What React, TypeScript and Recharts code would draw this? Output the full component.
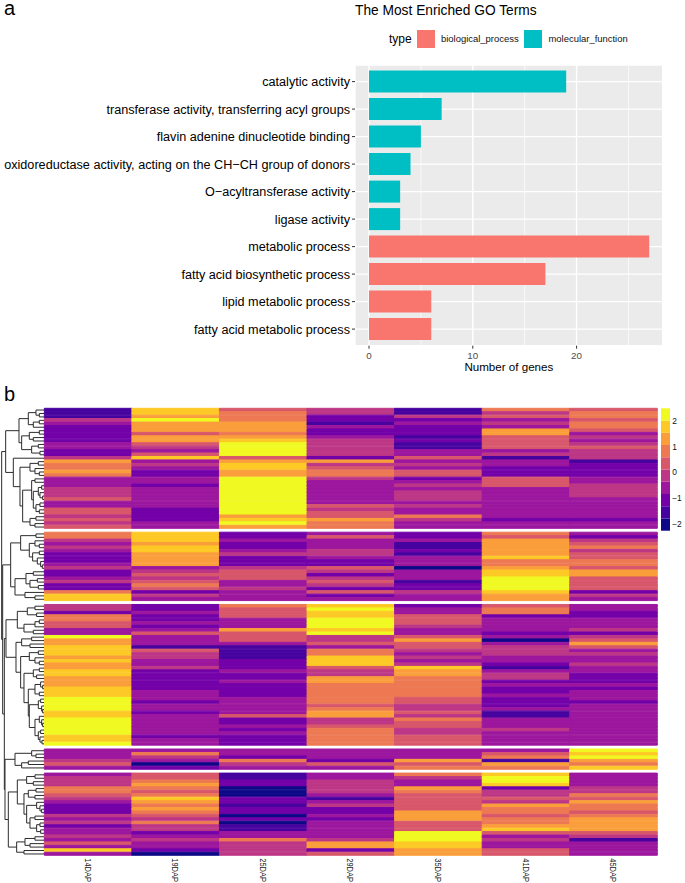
import React from "react";
import { BarChart, Bar, XAxis, YAxis, CartesianGrid, Cell, Legend, LineChart, Line } from "recharts";

const FONT = '"Liberation Sans", Arial, sans-serif';
const MINUS = "\u2212";

// ---------- panel a ----------
const goTerms = [
  "catalytic activity",
  "transferase activity, transferring acyl groups",
  "flavin adenine dinucleotide binding",
  `oxidoreductase activity, acting on the CH${MINUS}CH group of donors`,
  `O${MINUS}acyltransferase activity`,
  "ligase activity",
  "metabolic process",
  "fatty acid biosynthetic process",
  "lipid metabolic process",
  "fatty acid metabolic process",
];
const molecularFunction = [19, 7, 5, 4, 3, 3, 0, 0, 0, 0];
const biologicalProcess = [0, 0, 0, 0, 0, 0, 27, 17, 6, 6];
const geneTicks = [0, 10, 20];
const geneMinorTicks = [5, 15, 25];
const BP_COLOR = "#F8766D";
const MF_COLOR = "#00BFC4";

const goData = goTerms.map((term, i) => ({
  term,
  biological_process: biologicalProcess[i],
  molecular_function: molecularFunction[i],
}));

// ---------- panel b ----------
const palette = ["#0D0887", "#47039F", "#7301A8", "#9C179E", "#BD3786", "#D8576B", "#ED7953", "#FA9E3B", "#FDC926", "#F0F921"];
const samples = ["14DAP", "19DAP", "25DAP", "29DAP", "35DAP", "41DAP", "45DAP"];
const segmentSizes = [35, 20, 41, 6, 24];

const dap14 = [
  1,1,1,4,3,2,2,2,2,2,3,3,2,2,4,7,6,6,7,6,3,3,3,4,4,4,5,3,3,5,5,4,5,4,5,
  6,6,4,3,4,3,2,2,2,3,4,2,2,3,4,2,2,6,8,8,
  4,4,2,6,6,5,5,3,3,9,7,7,8,8,8,7,8,7,7,8,8,7,7,7,8,8,8,9,9,9,9,8,8,9,9,9,9,9,8,8,9,
  3,3,3,4,5,3,
  3,4,4,4,6,6,5,4,3,2,2,2,4,3,4,2,3,3,4,3,5,3,8,3,
];
const dap19 = [
  8,8,7,9,7,7,7,5,7,7,5,4,3,5,8,3,4,3,2,2,3,3,2,3,3,3,3,3,3,2,2,2,2,3,3,
  8,8,8,7,8,8,7,7,7,7,3,4,5,4,5,6,5,2,4,3,
  2,2,3,2,2,3,2,3,5,3,3,3,1,5,4,4,3,3,4,2,2,2,2,2,2,3,3,3,2,3,3,2,3,3,3,3,3,3,2,3,3,
  3,6,4,3,0,2,
  5,5,6,7,6,5,6,8,7,6,7,6,5,4,6,4,4,2,3,4,3,3,2,0,
];
const dap25 = [
  5,6,6,6,7,7,7,6,7,8,9,9,9,9,5,7,8,8,7,7,9,9,9,9,9,9,9,9,9,9,9,7,8,9,7,
  2,2,3,2,2,3,4,2,2,2,4,5,5,5,3,3,4,3,3,3,
  6,5,5,5,3,3,3,7,5,5,5,3,1,1,1,1,2,2,2,3,2,2,3,2,2,2,2,3,3,3,3,3,5,2,2,3,2,3,2,2,2,
  3,3,2,6,4,3,
  1,1,2,2,0,0,0,2,2,1,2,2,0,2,0,1,1,3,3,6,4,4,4,4,
];
const dap29 = [
  4,4,2,2,1,3,2,2,3,4,4,4,4,4,2,7,4,5,6,6,4,3,3,3,3,3,3,3,5,4,5,5,7,6,6,
  3,5,3,3,3,4,4,3,2,2,5,4,2,4,5,4,2,5,2,3,
  8,9,8,8,9,9,9,8,9,4,4,5,3,6,6,8,8,8,5,4,4,7,7,6,6,6,6,6,6,5,6,7,7,4,4,5,6,6,6,6,6,
  3,3,3,2,5,3,
  3,3,4,4,4,4,3,1,3,4,2,2,3,2,3,3,3,3,3,4,7,7,2,5,
];
const dap35 = [
  1,1,4,2,3,2,2,2,1,2,1,1,3,3,5,3,4,3,5,5,2,3,4,3,4,4,4,3,4,3,3,6,4,3,3,
  2,2,3,1,1,2,1,3,3,3,0,3,3,3,1,2,2,4,3,3,
  2,3,3,5,5,5,4,3,3,5,7,5,5,4,3,4,3,4,8,7,7,6,6,6,6,6,6,5,5,4,4,5,4,6,5,5,4,4,5,5,5,
  3,3,3,7,5,6,
  6,4,3,3,7,6,5,5,5,5,5,7,7,7,5,5,5,9,9,9,8,8,7,7,
];
const dap41 = [
  6,4,5,3,4,3,7,7,5,5,5,5,3,4,1,3,3,2,2,2,5,5,5,3,3,3,3,3,3,3,3,3,2,3,3,
  6,5,7,7,7,7,7,8,6,6,7,8,8,9,9,9,9,8,7,7,
  5,6,6,2,3,3,3,3,2,3,0,3,4,4,4,3,3,2,1,3,4,4,2,3,2,2,3,2,2,2,3,1,1,3,3,3,4,3,3,3,3,
  3,5,6,1,7,6,
  8,9,9,8,2,4,4,5,4,7,6,6,5,6,6,7,8,5,3,4,3,3,5,5,
];
const dap45 = [
  5,6,6,5,6,6,5,3,4,3,4,5,4,4,4,1,2,2,2,2,3,3,4,4,4,4,3,3,3,3,3,3,2,3,3,
  3,2,4,5,6,4,5,5,6,6,5,7,7,5,5,5,5,2,4,3,
  3,3,2,2,3,3,3,4,2,4,5,7,5,3,4,3,3,4,3,3,2,2,2,3,2,3,3,3,2,3,3,3,3,3,3,3,3,3,3,3,3,
  9,8,9,7,6,8,
  3,3,3,3,4,4,6,5,7,6,6,5,6,7,7,7,7,5,4,1,3,3,3,3,
];
const columns = [dap14, dap19, dap25, dap29, dap35, dap41, dap45];

// one gap row between clusters
const heatColumns: (number | null)[][] = columns.map((col) => {
  const out: (number | null)[] = [];
  let at = 0;
  segmentSizes.forEach((n, s) => {
    if (s > 0) out.push(null);
    out.push(...col.slice(at, at + n));
    at += n;
  });
  return out;
});
const heatRows = heatColumns[0].map((_, i) => {
  const row: Record<string, number | string> = { row: `r${i}` };
  samples.forEach((s, c) => {
    row[s] = heatColumns[c][i] === null ? 0 : 1;
  });
  return row;
});

// colour key
const keyLabels = [-2, -1, 0, 1, 2];
const keyStep = 0.473;
const keyBase = 2.25;
const keyRow: Record<string, number> = {};
palette.forEach((_, i) => (keyRow[`k${i}`] = keyStep));

// dendrograms: [merge position, child, child]; L is a leaf
const L = null;
type T = null | [number, T, T];
const cluster1: T = [17,
  [57,
    [85, [108, L, [118, L, L]], [100, [118, L, L], L]],
    [65, [88, [118, L, L], [100, L, L]], [95, [115, L, L], [120, L, L]]]],
  [40, L,
    [60,
      [90, [115, L, L], [105, L, [118, L, L]]],
      [68,
        [95, [105, L, L], [100, [115, [125, L, L], [120, L, [128, L, L]]], [108, [120, L, L], [118, L, L]]]],
        [90, [108, L, L], [105, L, L]]]]]];
const cluster2: T = [32,
  [62, [108, L, L], [88, [105, L, [118, L, L]], [98, [118, L, L], [112, L, [122, L, [127, L, L]]]]]],
  [45, [78, [100, L, L], [90, [112, L, L], [115, L, L]]], [75, L, [105, L, L]]]];
const cluster3: T = [18,
  [52, [82, [105, L, L], [110, L, L]], [72, [105, [118, L, L], L], [100, L, L]]],
  [48,
    [65, [95, L, L], [90, L, L]],
    [62,
      [88, [115, L, L], [105, L, [118, L, L]]],
      [72,
        [100, [118, L, L], [110, L, L]],
        [85,
          [105, [122, L, [128, L, L]], [118, L, L]],
          [88,
            [115, [122, L, L], [125, L, [128, L, L]]],
            [105, [118, L, [125, L, [128, L, L]]], [115, [122, L, L], [120, L, [126, L, L]]]]]]]]]];
const cluster4: T = [45, [95, L, [108, L, L]], [65, [85, L, L], L]];
const cluster5: T = [25,
  [52,
    [80, [105, L, L], [100, L, L]],
    [72,
      [85, [108, L, L], [105, L, L]],
      [80, [110, L, [120, L, [125, L, L]]], [90, [105, L, L], [110, [120, L, L], [122, L, L]]]]]],
  [50, [75, [105, L, L], [90, L, L]], [72, L, L]]];
const dendroTree: T = [5, cluster1, [8, cluster2, [13, cluster3, [15, cluster4, cluster5]]]];
const LEAF_POS = 133;

const gapAfter = new Set<number>();
{
  let c = 0;
  segmentSizes.slice(0, -1).forEach((n, s) => {
    c += n;
    gapAfter.add(c + s);
  });
}
const dendroPoints: { pos: number; row: number | null }[] = [];
let nextRow = 0;
const walk = (n: T): { pos: number; row: number } => {
  if (n === null) {
    const row = nextRow + 0.5;
    nextRow += 1;
    if (gapAfter.has(nextRow)) nextRow += 1;
    return { pos: LEAF_POS, row };
  }
  const a = walk(n[1]);
  const b = walk(n[2]);
  dendroPoints.push(
    { pos: a.pos, row: a.row },
    { pos: n[0], row: a.row },
    { pos: n[0], row: b.row },
    { pos: b.pos, row: b.row },
    { pos: b.pos, row: null }
  );
  return { pos: n[0], row: (a.row + b.row) / 2 };
};
walk(dendroTree);

const GoLegend = () => {
  const items = [
    { name: "biological_process", color: BP_COLOR, sw: 77, tx: 101 },
    { name: "molecular_function", color: MF_COLOR, sw: 184, tx: 208.5 },
  ];
  return (
    <div style={{ position: "relative", width: 300, height: 20, fontFamily: FONT }}>
      <span style={{ position: "absolute", left: 49, top: 0, fontSize: 12, lineHeight: "18px", color: "#000" }}>type</span>
      {items.map((it) => (
        <React.Fragment key={it.name}>
          <span style={{ position: "absolute", left: it.sw, top: 0, width: 17.5, height: 17.5, background: it.color }} />
          <span style={{ position: "absolute", left: it.tx, top: 0, fontSize: 9.45, lineHeight: "18px", color: "#111" }}>{it.name}</span>
        </React.Fragment>
      ))}
    </div>
  );
};

const SampleTick = (p: any) => {
  const name = samples[Math.floor(p.payload.value)];
  const y = p.y + 2.5;
  return (
    <text
      x={0}
      y={0}
      transform={`translate(${p.x} ${y}) rotate(90) scale(0.8 1)`}
      fontFamily={FONT}
      fontSize={9.4}
      fill="#222"
      textAnchor="start"
      dominantBaseline="central"
    >
      {name}
    </text>
  );
};

const TermTick = (p: any) => (
  <text x={p.x} y={p.y} dy="0.35em" textAnchor="end" fontFamily={FONT} fontSize={12.65} fill="#000">
    {p.payload.value}
  </text>
);

const label = (text: string, left: number, top: number, size: number) => (
  <div style={{ position: "absolute", left, top, fontFamily: FONT, fontSize: size, lineHeight: 0.8, color: "#000", whiteSpace: "nowrap" }}>{text}</div>
);

export default function App() {
  return (
    <div style={{ position: "absolute", left: 0, top: 0, width: 685, height: 883, background: "#fff", overflow: "hidden" }}>
      {label("a", 4, 0, 20)}
      {label("The Most Enriched GO Terms", 355, 5, 13.75)}
      {label("b", 4, 386, 20)}

      <div style={{ position: "absolute", left: 0, top: 0 }}>
        <BarChart
          width={685}
          height={380}
          layout="vertical"
          data={goData}
          barCategoryGap="10%"
          margin={{ top: 65, left: 5, right: 22.3, bottom: 4.3 }}
        >
          <CartesianGrid fill="#EBEBEB" stroke="#FFFFFF" strokeWidth={1.4} />
          <CartesianGrid fill="none" stroke="#FFFFFF" strokeWidth={0.7} horizontal={false} verticalValues={geneMinorTicks} />
          <XAxis
            type="number"
            domain={[-1.35, 28.3]}
            ticks={geneTicks}
            height={30}
            axisLine={false}
            tickSize={3}
            tickLine={{ stroke: "#333" }}
            tick={{ fontFamily: FONT, fontSize: 9.8, fill: "#4D4D4D" }}
            tickMargin={3}
            label={{ value: "Number of genes", position: "insideBottom", offset: 5, style: { fontFamily: FONT, fontSize: 11.6, fill: "#000" } }}
          />
          <YAxis
            type="category"
            dataKey="term"
            width={350}
            interval={0}
            axisLine={false}
            tickSize={3}
            tickLine={{ stroke: "#333" }}
            tickMargin={2}
            padding={{ top: 2.85, bottom: 2.85 }}
            tick={TermTick}
          />
          <Legend
            layout="horizontal"
            align="center"
            verticalAlign="middle"
            wrapperStyle={{ left: 340, top: 30, width: 345 }}
            content={() => <GoLegend />}
          />
          <Bar dataKey="biological_process" stackId="go" fill={BP_COLOR} isAnimationActive={false} />
          <Bar dataKey="molecular_function" stackId="go" fill={MF_COLOR} isAnimationActive={false} />
        </BarChart>
      </div>

      <div style={{ position: "absolute", left: 0, top: 400 }}>
        <BarChart
          width={685}
          height={483}
          layout="vertical"
          data={heatRows}
          barCategoryGap={0}
          barGap={0}
          margin={{ top: 8.3, left: 44.3, right: 27.7, bottom: 0 }}
        >
          <XAxis
            type="number"
            domain={[0, samples.length]}
            ticks={samples.map((_, i) => i + 0.5)}
            height={27.3}
            axisLine={false}
            tickLine={false}
            tickSize={0}
            tickMargin={0}
            interval={0}
            tick={SampleTick}
          />
          <YAxis type="category" dataKey="row" hide />
          {samples.map((s, c) => (
            <Bar key={s} dataKey={s} stackId="heat" isAnimationActive={false}>
              {heatRows.map((_, i) => {
                const v = heatColumns[c][i];
                const fill = v === null ? "none" : palette[v];
                return <Cell key={i} fill={fill} stroke={v === null ? "none" : fill} strokeWidth={1} />;
              })}
            </Bar>
          ))}
        </BarChart>
      </div>

      <div style={{ position: "absolute", left: 0, top: 400 }}>
        <LineChart
          width={44.3}
          height={456}
          data={dendroPoints}
          margin={{ top: 8.3, left: 0, right: 0, bottom: 0.3 }}
        >
          <XAxis type="number" dataKey="pos" domain={[0, LEAF_POS]} hide />
          <YAxis type="number" domain={[0, 130]} reversed hide />
          <Line dataKey="row" stroke="#2B2B2B" strokeWidth={1} dot={false} connectNulls={false} isAnimationActive={false} />
        </LineChart>
      </div>

      <div style={{ position: "absolute", left: 655, top: 400 }}>
        <BarChart
          width={30}
          height={140}
          data={[keyRow]}
          barCategoryGap={0}
          margin={{ top: 8.3, left: 6, right: 0, bottom: 9.3 }}
        >
          <XAxis hide />
          <YAxis
            orientation="right"
            type="number"
            domain={[0, keyStep * palette.length]}
            ticks={keyLabels.map((v) => v + keyBase)}
            tickFormatter={(v: number) => `${Math.round(v - keyBase)}`.replace("-", MINUS)}
            width={15.3}
            axisLine={false}
            tickLine={false}
            tickSize={0}
            tickMargin={2.5}
            interval={0}
            tick={{ fontFamily: FONT, fontSize: 8.4, fill: "#111" }}
          />
          {palette.map((c, i) => (
            <Bar key={c} dataKey={`k${i}`} stackId="key" fill={c} isAnimationActive={false} />
          ))}
        </BarChart>
      </div>
    </div>
  );
}
